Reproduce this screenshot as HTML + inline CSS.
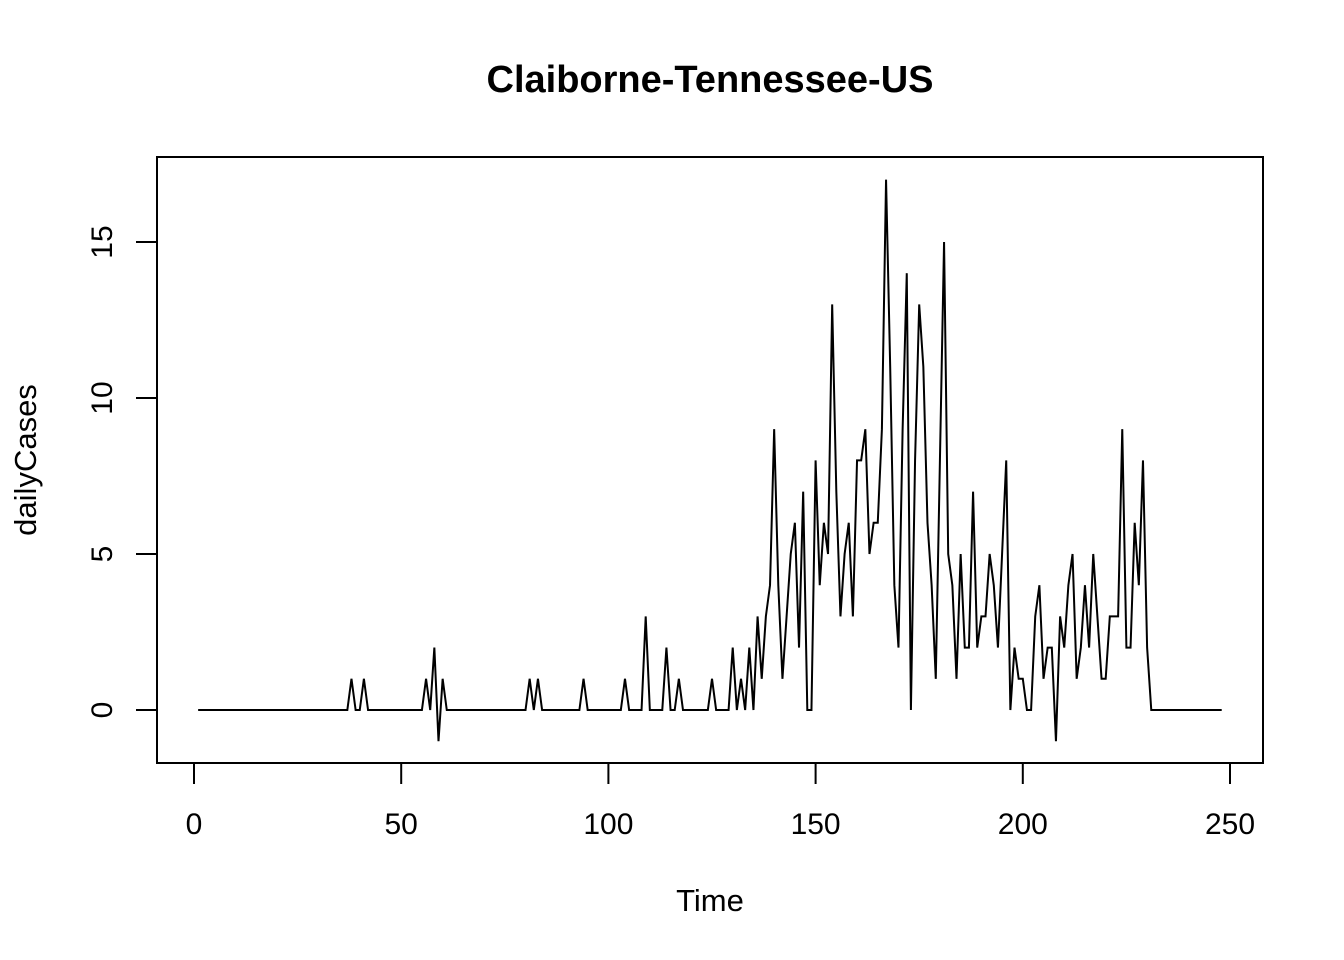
<!DOCTYPE html>
<html><head><meta charset="utf-8"><style>
html,body{margin:0;padding:0;background:#fff;}
svg{display:block;font-family:"Liberation Sans",Arial,sans-serif;}
</style></head><body>
<svg id="chart" width="1344" height="960" viewBox="0 0 1344 960">
<rect width="1344" height="960" fill="#fff"/>
<text x="710" y="92" text-anchor="middle" font-size="38" font-weight="bold">Claiborne-Tennessee-US</text>
<rect x="157" y="157" width="1106" height="606" fill="none" stroke="#000" stroke-width="2"/>
<text x="710" y="911" text-anchor="middle" font-size="31">Time</text>
<text transform="translate(36,460) rotate(-90)" text-anchor="middle" font-size="31">dailyCases</text>
<g id="xaxis"></g>
<g id="yaxis"></g>
<path id="line" fill="none" stroke="#000" stroke-width="2"/>
</svg>
<script>
const xTicks = [0, 50, 100, 150, 200, 250];
const yTicks = [0, 5, 10, 15];
const zeros = n => Array(n).fill(0);
const dailyCases = [].concat(
  zeros(37),
  [1,0,0,1], zeros(14),
  [1,0,2,-1,1], zeros(20),
  [1,0,1], zeros(10),
  [1], zeros(9),
  [1], zeros(4),
  [3], zeros(4),
  [2,0,0,1], zeros(7),
  [1], zeros(4),
  [2,0,1,0,2,0,3,1,3,4,
   9,4,1,3,5,6,2,7,0,0,
   8,4,6,5,13,7,3,5,6,3,
   8,8,9,5,6,6,9,17,11,4,
   2,9,14,0,8,13,11,6,4,1,
   8,15,5,4,1,5,2,2,7,2,
   3,3,5,4,2,5,8,0,2,1,
   1,0,0,3,4,1,2,2,-1,3,
   2,4,5,1,2,4,2,5,3,1,
   1,3,3,3,9,2,2,6,4,8,
   2],
  zeros(18)
);
const NS = "http://www.w3.org/2000/svg";
const sx = v => 194 + (v - 0) * (1230 - 194) / 250;
const sy = v => 710 - v * (710 - 242) / 15;
function mk(tag, attrs, parent) {
  const e = document.createElementNS(NS, tag);
  for (const k in attrs) e.setAttribute(k, attrs[k]);
  parent.appendChild(e);
  return e;
}
const xa = document.getElementById('xaxis');
const xl = mk('line', {x1: sx(xTicks[0]), x2: sx(xTicks[xTicks.length-1]), y1: 763, y2: 763, stroke: '#000', 'stroke-width': 2}, xa);


xTicks.forEach(t => {
  const tk = mk('line', {x1: sx(t), x2: sx(t), y1: 763, y2: 784, stroke: '#000', 'stroke-width': 2}, xa);
  
  
  const tx = mk('text', {x: sx(t), y: 834, 'text-anchor': 'middle', 'font-size': 30}, xa);
  tx.textContent = t;
  
  
});
const ya = document.getElementById('yaxis');
const yl = mk('line', {x1: 157, x2: 157, y1: sy(yTicks[0]), y2: sy(yTicks[yTicks.length-1]), stroke: '#000', 'stroke-width': 2}, ya);


yTicks.forEach(t => {
  const tk = mk('line', {x1: 136, x2: 157, y1: sy(t), y2: sy(t), stroke: '#000', 'stroke-width': 2}, ya);
  
  
  const tx = mk('text', {x: 0, y: 0, 'text-anchor': 'middle', 'font-size': 30, transform: `translate(112,${sy(t)}) rotate(-90)`}, ya);
  tx.textContent = t;
  
  
});
document.getElementById('line').setAttribute('d',
  dailyCases.map((v, i) => (i ? 'L' : 'M') + sx(i + 1).toFixed(2) + ',' + sy(v).toFixed(2)).join(' '));
</script>
</body></html>
